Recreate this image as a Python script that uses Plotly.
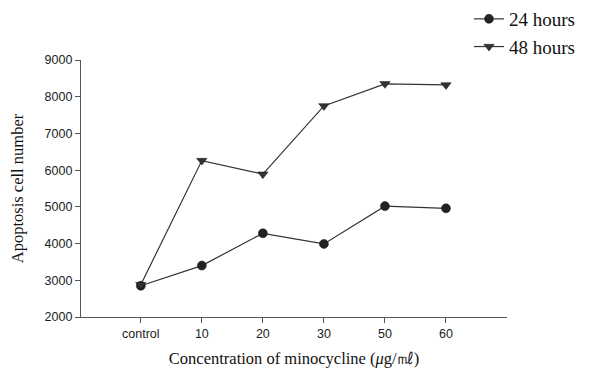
import plotly.graph_objects as go

categories = ["control", "10", "20", "30", "50", "60"]
hours24 = [2850, 3400, 4280, 3990, 5020, 4960]
hours48 = [2880, 6260, 5890, 7750, 8350, 8320]
y_ticks = [2000, 3000, 4000, 5000, 6000, 7000, 8000, 9000]

x_idx = list(range(len(categories)))

fig = go.Figure()
fig.add_trace(go.Scatter(
    x=x_idx, y=hours24, mode="lines+markers", name="24 hours",
    line=dict(color="#333333", width=1.2),
    marker=dict(symbol="circle", size=9, color="#222222",
                line=dict(color="#111111", width=0.5)),
))
fig.add_trace(go.Scatter(
    x=x_idx, y=hours48, mode="lines+markers", name="48 hours",
    line=dict(color="#333333", width=1.2),
    marker=dict(symbol="triangle-down", size=9, color="#333333",
                line=dict(color="#111111", width=0.5)),
))

fig.update_layout(
    width=592, height=375,
    margin=dict(l=81, r=85, t=60, b=58, autoexpand=False),
    paper_bgcolor="white", plot_bgcolor="white",
    showlegend=True,
    legend=dict(
        xref="container", yref="container",
        x=469 / 592, y=1.012, xanchor="left", yanchor="top",
        font=dict(family="Liberation Serif, Times New Roman, serif", size=19, color="#111111"),
        bgcolor="rgba(0,0,0,0)", tracegroupgap=0,
    ),
    xaxis=dict(
        range=[-0.98, 6.0],
        tickmode="array", tickvals=x_idx, ticktext=categories,
        showgrid=False, zeroline=False,
        showline=True, linecolor="#555555", linewidth=1.2,
        ticks="outside", ticklen=5, tickcolor="#555555",
        tickfont=dict(family="Liberation Sans, Arial, sans-serif", size=12.5, color="#222222"),
        title=dict(text="Concentration of minocycline (<i>μ</i>g/㎖)",
                   font=dict(family="Liberation Serif, Times New Roman, serif", size=16.5, color="#111111"),
                   standoff=12),
    ),
    yaxis=dict(
        range=[2000, 9000],
        tickmode="array", tickvals=y_ticks,
        showgrid=False, zeroline=False,
        showline=True, linecolor="#555555", linewidth=1.2,
        ticks="outside", ticklen=5, tickcolor="#555555",
        tickfont=dict(family="Liberation Sans, Arial, sans-serif", size=12.5, color="#222222"),
        title=dict(text="Apoptosis cell number",
                   font=dict(family="Liberation Serif, Times New Roman, serif", size=16.5, color="#111111"),
                   standoff=16),
    ),
)

fig.write_html("out.html")
